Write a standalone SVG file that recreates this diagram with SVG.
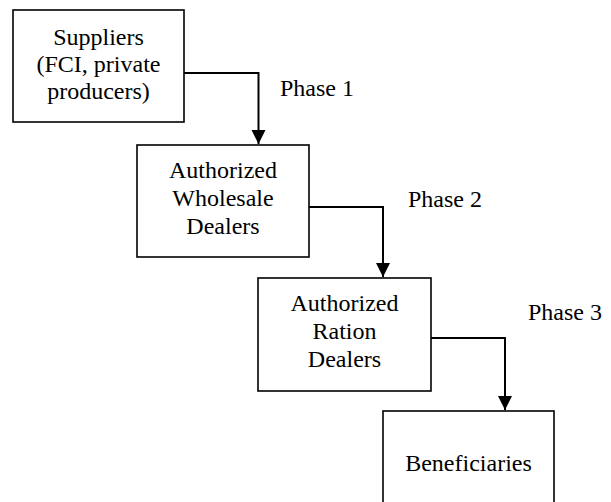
<svg xmlns="http://www.w3.org/2000/svg" width="611" height="502" viewBox="0 0 611 502">
<style>
.box{fill:#fff;stroke:#000;stroke-width:1.6}
.lbl{font-family:"Times New Roman","Liberation Serif",serif;font-size:24px;fill:#000}
.c{text-anchor:middle}
.conn{fill:none;stroke:#000;stroke-width:2}
</style>
<defs>
<marker id="arr" markerUnits="userSpaceOnUse" markerWidth="16" markerHeight="16" viewBox="0 0 16 16" refX="8" refY="15" orient="0">
<path d="M1,1 L15,1 L8,15 Z" fill="#000"/>
</marker>
</defs>
<rect width="611" height="502" fill="#fff"/>
<g id="connectors">
<path class="conn" d="M184,73 H258.5 V144" marker-end="url(#arr)"/>
<path class="conn" d="M309,207 H383 V277" marker-end="url(#arr)"/>
<path class="conn" d="M431,338 H505 V410" marker-end="url(#arr)"/>
</g>
<g id="n1">
<rect class="box" x="13" y="10" width="171" height="112"/>
<text class="lbl c" x="98.5" y="45">Suppliers</text>
<text class="lbl c" x="98.5" y="72">(FCI, private</text>
<text class="lbl c" x="98.5" y="99">producers)</text>
</g>
<g id="n2">
<rect class="box" x="137" y="145" width="172" height="112"/>
<text class="lbl c" x="223" y="178">Authorized</text>
<text class="lbl c" x="223" y="206">Wholesale</text>
<text class="lbl c" x="223" y="234">Dealers</text>
</g>
<g id="n3">
<rect class="box" x="258" y="278" width="173" height="113"/>
<text class="lbl c" x="344.5" y="311">Authorized</text>
<text class="lbl c" x="344.5" y="339">Ration</text>
<text class="lbl c" x="344.5" y="367">Dealers</text>
</g>
<g id="n4">
<rect class="box" x="383" y="411" width="171" height="100"/>
<text class="lbl c" x="468.5" y="471">Beneficiaries</text>
</g>
<g id="labels">
<text class="lbl" x="280" y="96">Phase 1</text>
<text class="lbl" x="408" y="207">Phase 2</text>
<text class="lbl" x="528" y="320">Phase 3</text>
</g>
</svg>
